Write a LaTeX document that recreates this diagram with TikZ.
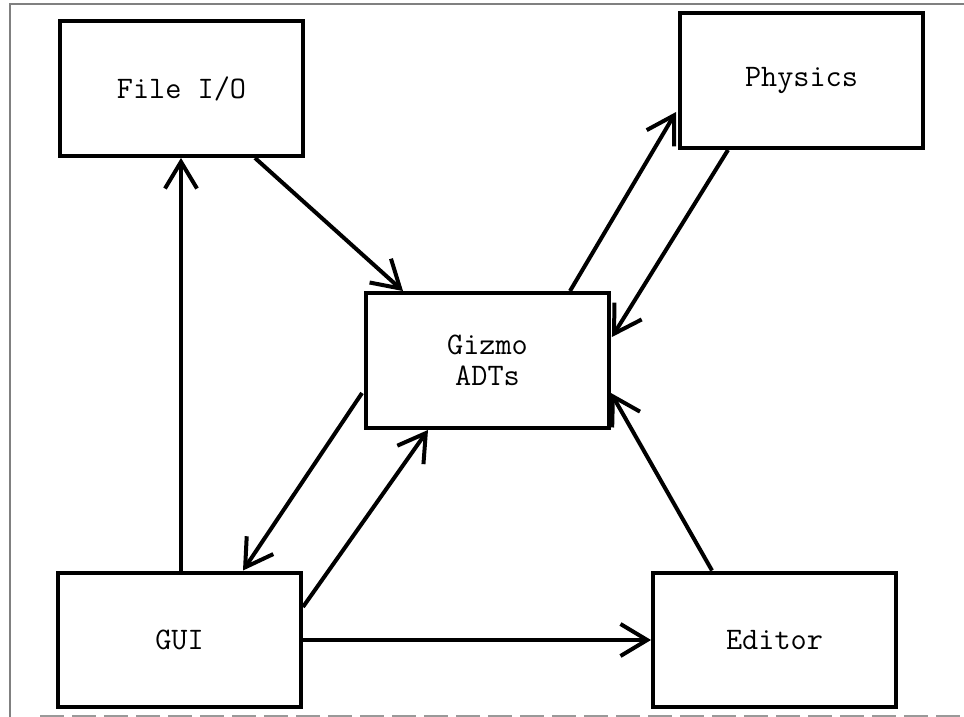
\documentclass[tikz,border=0pt]{standalone}
\usepackage{fontspec}
\usetikzlibrary{arrows.meta,calc}
\begin{document}
\begin{tikzpicture}[x=0.75pt,y=-0.75pt,
  module/.style={draw=black,line width=3.2pt,minimum width=182pt,minimum height=101pt,
    inner sep=0pt,align=center,font=\ttfamily\fontsize{23.5}{23.5}\selectfont},
  flow/.style={line width=3pt,-{Straight Barb[length=20pt,width=24pt,line width=3pt]}},
  frame/.style={draw=black!50,line width=1.1pt}]
\useasboundingbox (0,0) rectangle (964,717);
% outer border
\draw[frame] (964,4) -- (10,4) -- (10,717);
\draw[frame,draw=black!40,dash pattern=on 18pt off 6pt] (40,716) -- (964,716);
% modules
\node[module] (fileio) at (181.5,88.5) {File I/O};
\node[module] (physics) at (801.5,80.5) {Physics};
\node[module] (gizmo) at (487.5,360.5) {Gizmo\\ADTs};
\node[module] (gui) at (179.5,640) {GUI};
\node[module] (editor) at (774.5,640) {Editor};
% dependencies
\draw[flow] ($(gui.north)+(1.5,0)$) -- ($(fileio.south)+(-0.5,0)$);
\draw[flow] ($(fileio.south)+(73.5,0)$) -- ($(gizmo.north)+(-84.5,0)$);
\draw[flow] ($(gizmo.north)+(82.5,0)$) -- ($(physics.west)+(-2,31.5)$);
\draw[flow] ($(physics.south)+(-73.5,0)$) -- ($(gizmo.east)+(1,-23.5)$);
\draw[flow] ($(editor.north)+(-62.5,0)$) -- ($(gizmo.east)+(0,32.5)$);
\draw[flow] ($(gizmo.west)+(-2,32.5)$) -- ($(gui.north)+(63.5,0)$);
\draw[flow] ($(gui.east)+(0,-33)$) -- ($(gizmo.south)+(-59.5,0)$);
\draw[flow] (gui.east) -- (editor.west);
\end{tikzpicture}
\end{document}
